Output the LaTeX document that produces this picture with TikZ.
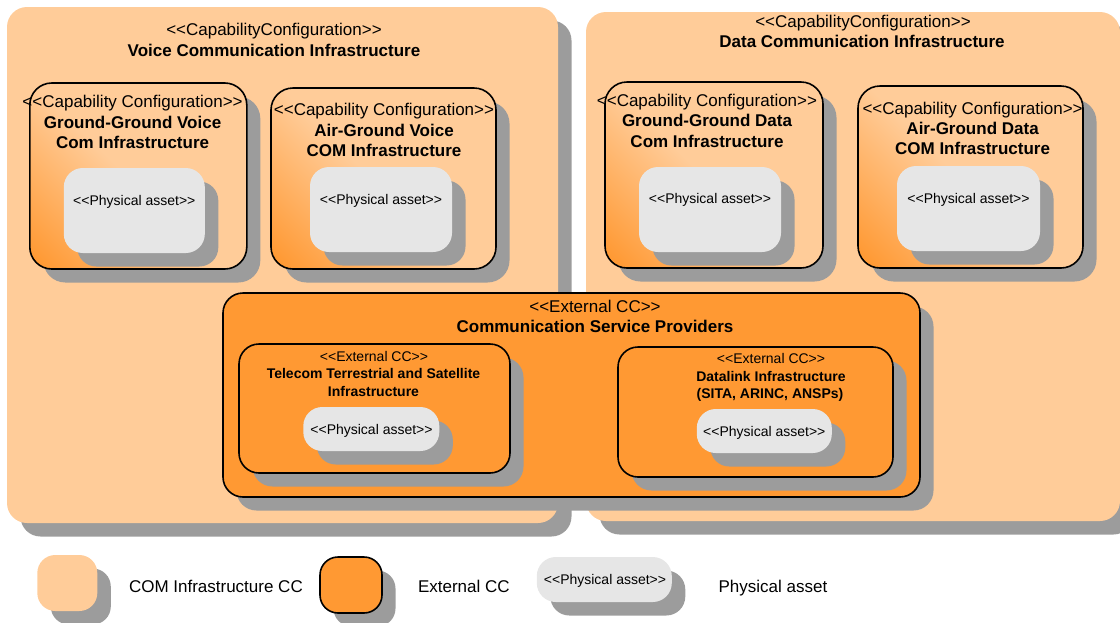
\documentclass[tikz,border=0pt]{standalone}
\usepackage{fontspec}
\setmainfont{Liberation Sans}
\usetikzlibrary{shadows}
\definecolor{ccpeach}{HTML}{FFCC99}
\definecolor{ccorange}{HTML}{FF9933}
\definecolor{assetgrey}{HTML}{E6E6E6}
\definecolor{shadowgrey}{HTML}{9C9C9C}
% orange in the lower left corner fading into peach
\pgfdeclarehorizontalshading{ccfade}{100bp}{color(0bp)=(ccorange); color(17bp)=(ccorange); color(48bp)=(ccpeach); color(100bp)=(ccpeach)}
\begin{document}
\begin{tikzpicture}[x=1pt,y=-1pt,
  every node/.style={inner sep=0pt, outer sep=0pt},
  solidshadow/.style={drop shadow={shadow xshift=13.5pt, shadow yshift=-13.5pt, fill=shadowgrey, opacity=1}},
  panel/.style={solidshadow, fill=ccpeach, rounded corners=20pt},
  capbox/.style={solidshadow, draw=black, line width=1.6pt, rounded corners=22pt, shade, shading=ccfade, shading angle=45},
  extbox/.style={solidshadow, draw=black, line width=1.6pt, fill=ccorange, rounded corners=20pt},
  assetbox/.style={solidshadow, fill=assetgrey, rounded corners=19pt},
  bigtxt/.style={font=\fontsize{17}{20}\selectfont, anchor=base},
  bigbold/.style={font=\fontsize{17}{20}\selectfont\bfseries, anchor=base},
  smalltxt/.style={font=\fontsize{14}{17}\selectfont, anchor=base},
  smallbold/.style={font=\fontsize{14}{17}\selectfont\bfseries, anchor=base},
  legendtxt/.style={font=\fontsize{17}{20}\selectfont, anchor=base west},
]
\useasboundingbox (0,0) rectangle (1120,622);

% ---- top-level capability configurations
\node[panel, minimum width=551pt, minimum height=516pt] (voice) at (282.5,265) {};
\node[bigtxt]  (voice-st) at (274,35.5) {<{}<CapabilityConfiguration>{}>};
\node[bigbold] (voice-nm) at (274,56.5) {Voice Communication Infrastructure};

\node[panel, minimum width=534pt, minimum height=509pt] (data) at (853,266.5) {};
\node[bigtxt]  (data-st) at (863,27.5) {<{}<CapabilityConfiguration>{}>};
\node[bigbold] (data-nm) at (862,47.5) {Data Communication Infrastructure};

% ---- voice sub-configurations
\node[capbox, minimum width=217pt, minimum height=186pt] (ggv) at (138.3,176) {};
\node[bigtxt]  (ggv-st) at (132.6,107.5) {<{}<Capability Configuration>{}>};
\node[bigbold] (ggv-n1) at (132.6,128.5) {Ground-Ground Voice};
\node[bigbold] (ggv-n2) at (132.6,148.5) {Com Infrastructure};
\node[assetbox, minimum width=141pt, minimum height=85pt] (ggv-pa) at (134.3,210.5) {};
\node[smalltxt] (ggv-pat) at (134.3,205.5) {<{}<Physical asset>{}>};

\node[capbox, minimum width=225pt, minimum height=181pt] (agv) at (383.5,178.5) {};
\node[bigtxt]  (agv-st) at (384,115.5) {<{}<Capability Configuration>{}>};
\node[bigbold] (agv-n1) at (384,136.5) {Air-Ground Voice};
\node[bigbold] (agv-n2) at (384,156.5) {COM Infrastructure};
\node[assetbox, minimum width=142pt, minimum height=85pt] (agv-pa) at (381,209.5) {};
\node[smalltxt] (agv-pat) at (381,204.5) {<{}<Physical asset>{}>};

% ---- data sub-configurations
\node[capbox, minimum width=218pt, minimum height=186pt] (ggd) at (714,175) {};
\node[bigtxt]  (ggd-st) at (707,106.5) {<{}<Capability Configuration>{}>};
\node[bigbold] (ggd-n1) at (707,126.5) {Ground-Ground Data};
\node[bigbold] (ggd-n2) at (707,147.5) {Com Infrastructure};
\node[assetbox, minimum width=142pt, minimum height=85pt] (ggd-pa) at (710,209.5) {};
\node[smalltxt] (ggd-pat) at (710,203.5) {<{}<Physical asset>{}>};

\node[capbox, minimum width=225pt, minimum height=182pt] (agd) at (970.5,177) {};
\node[bigtxt]  (agd-st) at (972.6,114.5) {<{}<Capability Configuration>{}>};
\node[bigbold] (agd-n1) at (972.6,134.5) {Air-Ground Data};
\node[bigbold] (agd-n2) at (972.6,154.5) {COM Infrastructure};
\node[assetbox, minimum width=143pt, minimum height=85pt] (agd-pa) at (968.5,208.5) {};
\node[smalltxt] (agd-pat) at (968.5,203.5) {<{}<Physical asset>{}>};

% ---- external communication service providers
\node[extbox, minimum width=697pt, minimum height=204pt] (csp) at (571.5,395) {};
\node[bigtxt]  (csp-st) at (595,312.5) {<{}<External CC>{}>};
\node[bigbold] (csp-nm) at (595,332.5) {Communication Service Providers};

\node[extbox, minimum width=271pt, minimum height=129pt] (tel) at (374.5,408.5) {};
\node[smalltxt]  (tel-st) at (374,361) {<{}<External CC>{}>};
\node[smallbold] (tel-n1) at (373.5,378) {Telecom Terrestrial and Satellite};
\node[smallbold] (tel-n2) at (373.5,396) {Infrastructure};
\node[assetbox, minimum width=136pt, minimum height=44pt] (tel-pa) at (371.3,429) {};
\node[smalltxt] (tel-pat) at (371.5,434) {<{}<Physical asset>{}>};

\node[extbox, minimum width=275pt, minimum height=130pt] (dl) at (755.5,412) {};
\node[smalltxt]  (dl-st) at (771,363) {<{}<External CC>{}>};
\node[smallbold] (dl-n1) at (771,381) {Datalink Infrastructure};
\node[smallbold] (dl-n2) at (770,398) {(SITA, ARINC, ANSPs)};
\node[assetbox, minimum width=135pt, minimum height=44pt] (dl-pa) at (764.3,431) {};
\node[smalltxt] (dl-pat) at (764.3,436) {<{}<Physical asset>{}>};

% ---- legend
\node[solidshadow, fill=ccpeach, rounded corners=18pt, minimum width=60pt, minimum height=56pt] (lg-com) at (67.3,583) {};
\node[legendtxt] (lg-comt) at (129,592.5) {COM Infrastructure CC};
\node[extbox, rounded corners=18pt, minimum width=62pt, minimum height=56pt] (lg-ext) at (351,585) {};
\node[legendtxt] (lg-extt) at (418,592.5) {External CC};
\node[assetbox, minimum width=135pt, minimum height=45pt] (lg-pa) at (604.3,579.5) {};
\node[smalltxt] (lg-pat) at (605,584) {<{}<Physical asset>{}>};
\node[legendtxt] (lg-pat2) at (718.6,592.5) {Physical asset};
\end{tikzpicture}
\end{document}
